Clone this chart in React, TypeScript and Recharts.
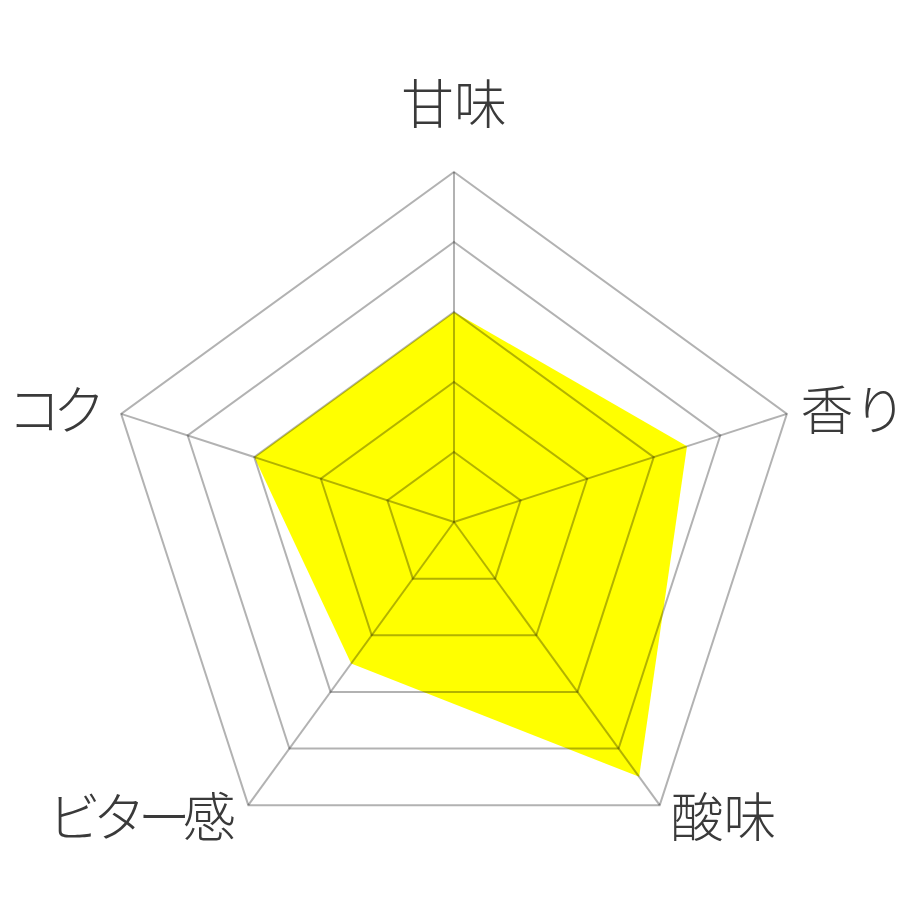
import { RadarChart, Radar, PolarGrid, PolarAngleAxis, PolarRadiusAxis } from "recharts";

// Axis labels, clockwise from the top
const attributes = ["甘味", "香り", "酸味", "ビター感", "コク"];
const scores = [3, 3.5, 4.5, 2.5, 3];

const MAX_SCORE = 5;
const CX = 446;
const CY = 514;

const data = attributes.map((name, i) => ({ name, score: scores[i] }));

// kana in the original font are narrower than in Noto, so squeeze them a bit
const hasKana = (s: string) => /[\u30a0-\u30ff]/.test(s);

function AxisLabel(props: any) {
    const { x, y, payload } = props;
    const dx = x - CX;
    const dy = y - CY;
    const squeeze = hasKana(payload.value) ? -8 : 0;
    let anchor: "start" | "middle" | "end" = "middle";
    let tx = x;
    let ty = y;
    if (Math.abs(dx) < 1) {
        // top label sits well above the vertex
        ty = y - 63;
    } else if (dx > 0) {
        anchor = "start";
        tx = x + 6;
        ty = dy < 0 ? y - 4 : y + 2;
    } else {
        anchor = "end";
        tx = x - 11 + squeeze * 0.6;
        ty = dy < 0 ? y - 4 : y + 2;
    }
    return (
        <text
            x={tx}
            y={ty}
            textAnchor={anchor}
            dominantBaseline="central"
            fill="#3a3a3a"
            fontSize={53}
            fontWeight={300}
            letterSpacing={squeeze}
            fontFamily="'Noto Sans CJK JP', sans-serif"
        >
            {payload.value}
        </text>
    );
}

export default function App() {
    return (
        <RadarChart
            width={920}
            height={920}
            data={data}
            cx={CX}
            cy={CY}
            outerRadius={350}
            startAngle={90}
            endAngle={-270}
        >
            <PolarRadiusAxis
                domain={[0, MAX_SCORE]}
                tickCount={6}
                axisLine={false}
                tick={false}
            />
            <PolarAngleAxis dataKey="name" tick={<AxisLabel />} tickLine={false} axisLine={false} />
            <Radar
                dataKey="score"
                fill="#FFFF00"
                fillOpacity={1}
                stroke="none"
                isAnimationActive={false}
            />
            <PolarGrid
                gridType="polygon"
                stroke="#000"
                strokeOpacity={0.3}
                strokeWidth={2}
                zIndex={1000}
            />
        </RadarChart>
    );
}
